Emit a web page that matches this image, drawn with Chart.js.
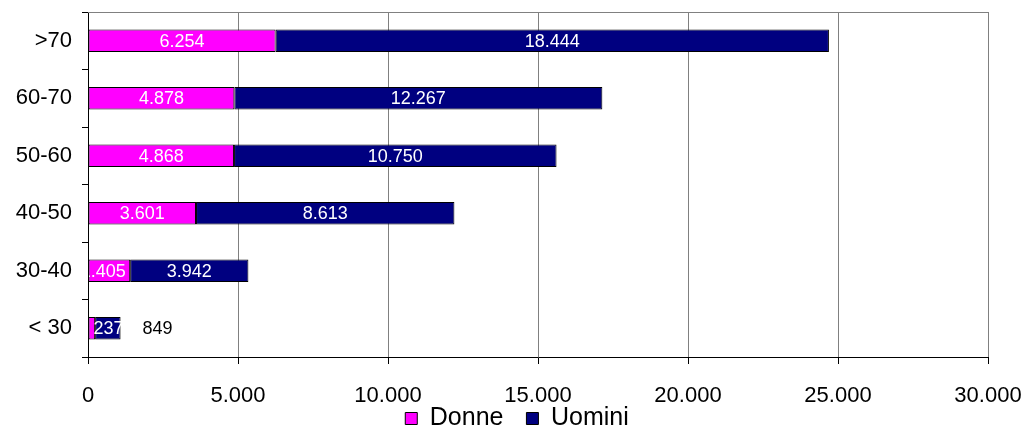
<!DOCTYPE html>
<html>
<head>
<meta charset="utf-8">
<script src="https://cdn.jsdelivr.net/npm/chart.js@4.4.1/dist/chart.umd.min.js"></script>
<style>
  html, body { margin: 0; padding: 0; background: #fff; }
  #wrap { width: 1026px; height: 430px; }
</style>
</head>
<body>
<div id="wrap"><canvas id="chart" width="1026" height="430"></canvas></div>
<script>
const ageGroups = ['>70', '60-70', '50-60', '40-50', '30-40', '< 30'];
const donne = [6254, 4878, 4868, 3601, 1405, 237];
const uomini = [18444, 12267, 10750, 8613, 3942, 849];
const xTicks = [0, 5000, 10000, 15000, 20000, 25000, 30000];

const FONT = '"Liberation Sans", Arial, sans-serif';
Chart.defaults.font.family = FONT;
Chart.defaults.color = '#000';

// 12345 -> "12.345"
function fmt(v) {
    return String(v).replace(/\B(?=(\d{3})+(?!\d))/g, '.');
}

// gray line along the top of the plot area
const topBorder = {
    id: 'topBorder',
    afterDraw(chart) {
        const {ctx, chartArea} = chart;
        ctx.save();
        ctx.strokeStyle = '#808080';
        ctx.lineWidth = 1;
        ctx.beginPath();
        ctx.moveTo(chartArea.left, chartArea.top + 0.5);
        ctx.lineTo(chartArea.right, chartArea.top + 0.5);
        ctx.stroke();
        ctx.restore();
    }
};

// legend sits a bit right of centre and tight under the tick labels
const legendNudge = {
    id: 'legendNudge',
    afterLayout(chart) {
        const lg = chart.legend;
        lg.top -= lg.options.labels.padding;
        lg.left += 23;
        lg.right += 23;
    }
};

// value labels inside the bar segments
const barLabels = {
    id: 'barLabels',
    afterDatasetsDraw(chart) {
        const {ctx, chartArea} = chart;
        ctx.save();
        ctx.beginPath();
        ctx.rect(chartArea.left + 1, chartArea.top, chartArea.right - chartArea.left, chartArea.bottom - chartArea.top);
        ctx.clip();
        ctx.font = '18px ' + FONT;
        ctx.textBaseline = 'middle';
        const last = chart.data.datasets.length - 1;
        chart.data.datasets.forEach((ds, di) => {
            const meta = chart.getDatasetMeta(di);
            meta.data.forEach((bar, i) => {
                const text = fmt(ds.data[i]);
                const w = ctx.measureText(text).width;
                const segW = bar.x - bar.base;
                let x = (bar.x + bar.base) / 2;
                ctx.fillStyle = '#fff';
                ctx.textAlign = 'center';
                if (di === last && w > segW) {
                    ctx.fillStyle = '#000';
                    ctx.textAlign = 'left';
                    x = bar.x + 22;
                } else if (w > segW * 2) {
                    ctx.textAlign = 'left';
                    x = bar.base + 5;
                } else if (w > segW) {
                    x -= 6;
                }
                ctx.fillText(text, x, bar.y + 1);
            });
        });
        ctx.restore();
    }
};

new Chart(document.getElementById('chart'), {
    type: 'bar',
    data: {
        labels: ageGroups,
        datasets: [
            {
                label: 'Donne',
                data: donne,
                backgroundColor: '#FF00FF',
                borderColor: '#000',
                borderWidth: 1,
                borderSkipped: false,
                categoryPercentage: 1,
                barPercentage: 0.39
            },
            {
                label: 'Uomini',
                data: uomini,
                backgroundColor: '#000080',
                borderColor: '#000',
                borderWidth: 1,
                borderSkipped: false,
                categoryPercentage: 1,
                barPercentage: 0.39
            }
        ]
    },
    options: {
        indexAxis: 'y',
        responsive: false,
        animation: false,
        layout: { padding: { top: 12, right: 38, left: 0, bottom: 0 } },
        scales: {
            x: {
                stacked: true,
                min: 0,
                max: 30000,
                afterBuildTicks: (scale) => { scale.ticks = xTicks.map(v => ({ value: v })); },
                afterFit: (scale) => {
                    scale.height = 49;
                    scale.paddingLeft = 0;
                    scale.paddingRight = 0;
                },
                ticks: {
                    font: { size: 22 },
                    color: '#000',
                    padding: 19,
                    maxRotation: 0,
                    callback: (v) => fmt(v)
                },
                grid: {
                    color: '#808080',
                    tickColor: '#000',
                    tickLength: 7,
                    lineWidth: 1
                },
                border: { color: '#000', width: 1 }
            },
            y: {
                stacked: true,
                afterFit: (scale) => {
                    scale.width = 88;
                    scale.paddingTop = 0;
                    scale.paddingBottom = 0;
                },
                ticks: {
                    font: { size: 22 },
                    color: '#000',
                    padding: 10
                },
                grid: {
                    drawOnChartArea: false,
                    color: '#000',
                    tickLength: 6,
                    offset: true
                },
                border: { color: '#000', width: 1 }
            }
        },
        plugins: {
            legend: {
                position: 'bottom',
                maxHeight: 24,
                labels: {
                    font: { size: 25 },
                    color: '#000',
                    boxWidth: 12,
                    boxHeight: 12,
                    padding: 23,
                    generateLabels: (chart) => chart.data.datasets.map((ds, i) => ({
                        text: ds.label,
                        fillStyle: ds.backgroundColor,
                        strokeStyle: '#000',
                        lineWidth: 1,
                        datasetIndex: i
                    }))
                }
            },
            tooltip: { enabled: false }
        }
    },
    plugins: [topBorder, legendNudge, barLabels]
});
</script>
</body>
</html>
